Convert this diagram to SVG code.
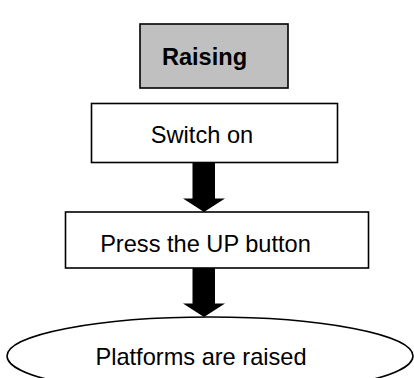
<svg xmlns="http://www.w3.org/2000/svg" width="414" height="378" viewBox="0 0 414 378">
<style>
.box{fill:#fff;stroke:#000;stroke-width:1.6}
.t{font-family:"Liberation Sans",Arial,sans-serif;font-size:23.6px;fill:#000;text-anchor:middle}
.arr{fill:#000;stroke:none}
</style>
<rect width="414" height="378" fill="#fff"/>
<g id="raising">
<rect x="140" y="24" width="148" height="64" fill="#c0c0c0" stroke="#000" stroke-width="1.6"/>
<text class="t" x="204.5" y="65" font-weight="bold">Raising</text>
</g>
<g id="switch-on">
<rect class="box" x="91.5" y="103.5" width="246" height="59"/>
<text class="t" x="202" y="143">Switch on</text>
</g>
<g id="press-up">
<rect class="box" x="65.5" y="212" width="303" height="56"/>
<text class="t" x="205.5" y="252">Press the UP button</text>
</g>
<g id="platforms-raised">
<ellipse cx="210" cy="356" rx="203" ry="39" fill="#fff" stroke="#000" stroke-width="1.6"/>
<text class="t" x="201" y="365">Platforms are raised</text>
</g>
<g id="connectors">
<polygon class="arr" points="192.5,163 215,163 215,198.5 225,198.5 204,212 183,198.5 192.5,198.5"/>
<polygon class="arr" points="192.5,268 215,268 215,303.5 225,303.5 204,317 183,303.5 192.5,303.5"/>
</g>
</svg>
